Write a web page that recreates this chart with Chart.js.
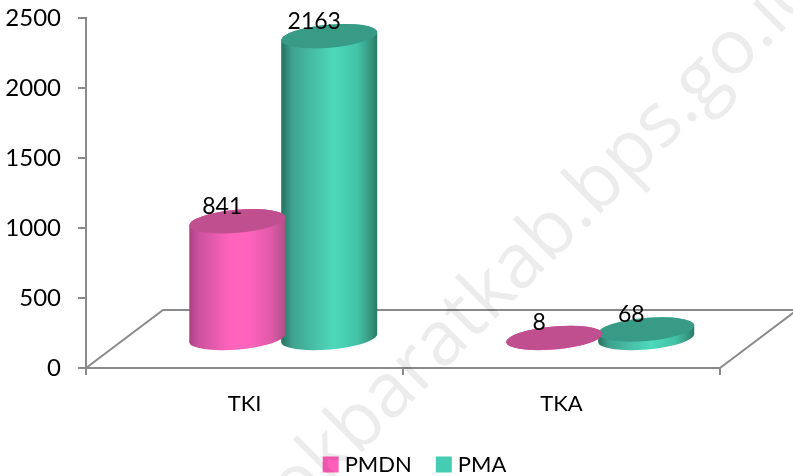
<!DOCTYPE html>
<html>
<head>
<meta charset="utf-8">
<style>html,body{margin:0;padding:0;background:#fff}#w{width:793px;height:476px;position:relative}</style>
<script src="https://cdn.jsdelivr.net/npm/chart.js@4/dist/chart.umd.min.js"></script>
</head>
<body>
<div id="w"><canvas id="c" width="793" height="476"></canvas></div>
<script>
const categories = ['TKI', 'TKA'];
const pmdnValues = [841, 8];
const pmaValues = [2163, 68];
const yTicks = [0, 500, 1000, 1500, 2000, 2500];
const PINK = '#ff5fbb', TEAL = '#45ccb2', AXIS = '#8a8a8a';
const FONT = 'Lato';
const DEPTH = {x: 77, y: -58};
const OFFSET = {x: 38.75, y: -29};
const SHADES = {
  [PINK]: {top: '#c04f90', side: [[0,'#aa4084'],[0.1,'#cc529e'],[0.42,'#ff63bc'],[0.62,'#ff63bc'],[0.85,'#e05aa9'],[1,'#b04e87']]},
  [TEAL]: {top: '#389b86', side: [[0,'#25705f'],[0.12,'#3fa48f'],[0.55,'#4dd9bb'],[0.8,'#43c2a6'],[0.93,'#37967f'],[1,'#287a67']]}
};

// Every bar is still laid out by the bar controller; only its painting is a cylinder.
Chart.BarElement.prototype.draw = function (ctx) {
  const shade = SHADES[this.options.backgroundColor];
  const cx = this.x + OFFSET.x, topY = this.y + OFFSET.y, baseY = this.base + OFFSET.y;
  const rx = 48.2, ry = 11.5, rot = -5 * Math.PI / 180;
  const g = ctx.createLinearGradient(cx - rx, 0, cx + rx, 0);
  shade.side.forEach(s => g.addColorStop(s[0], s[1]));
  ctx.save();
  ctx.beginPath();
  ctx.ellipse(cx, baseY, rx, ry, rot, 0, Math.PI);
  ctx.ellipse(cx, topY, rx, ry, rot, Math.PI, 2 * Math.PI);
  ctx.closePath();
  ctx.fillStyle = g;
  ctx.fill();
  ctx.beginPath();
  ctx.ellipse(cx, topY, rx, ry, rot, 0, 2 * Math.PI);
  ctx.fillStyle = shade.top;
  ctx.fill();
  ctx.restore();
};

const floorPlugin = {
  id: 'floor',
  beforeDatasetsDraw(chart) {
    const {ctx, chartArea: a} = chart;
    ctx.save();
    ctx.strokeStyle = AXIS;
    ctx.lineWidth = 2;
    ctx.beginPath();
    ctx.moveTo(a.left, a.bottom);
    ctx.lineTo(a.left + DEPTH.x, a.bottom + DEPTH.y);
    ctx.lineTo(a.right + DEPTH.x, a.bottom + DEPTH.y);
    ctx.lineTo(a.right, a.bottom);
    ctx.stroke();
    ctx.restore();
  }
};

const labelPlugin = {
  id: 'valueLabels',
  afterDatasetsDraw(chart) {
    const {ctx} = chart;
    ctx.save();
    ctx.font = '23px ' + FONT;
    ctx.fillStyle = '#000';
    ctx.textAlign = 'center';
    ctx.textBaseline = 'middle';
    chart.data.datasets.forEach((ds, i) => {
      chart.getDatasetMeta(i).data.forEach((el, j) => {
        ctx.fillText(String(ds.data[j]), el.x + OFFSET.x - 15, el.y + OFFSET.y - 15);
      });
    });
    ctx.restore();
  }
};

const watermarkPlugin = {
  id: 'watermark',
  afterDraw(chart) {
    const {ctx} = chart;
    ctx.save();
    ctx.font = '76px "Open Sans"';
    ctx.fillStyle = 'rgba(0,0,0,0.075)';
    ctx.textBaseline = 'alphabetic';
    ctx.textAlign = 'right';
    ctx.translate(763, 51);
    ctx.rotate(-Math.PI / 4);
    ctx.fillText('lombokbaratkab.bps.go.id', ctx.measureText('.id').width, 0);
    ctx.restore();
  }
};

const legendPlace = {
  id: 'legendPlace',
  afterLayout(chart) {
    const lg = chart.legend;
    lg.left += 57; lg.right += 57;
    lg.top = 424.5; lg.bottom = 476;
  }
};

new Chart(document.getElementById('c'), {
  type: 'bar',
  data: {
    labels: categories,
    datasets: [
      {label: 'PMDN', data: pmdnValues, backgroundColor: PINK, categoryPercentage: 0.58, barPercentage: 1},
      {label: 'PMA', data: pmaValues, backgroundColor: TEAL, categoryPercentage: 0.58, barPercentage: 1}
    ]
  },
  plugins: [floorPlugin, labelPlugin, watermarkPlugin, legendPlace],
  options: {
    responsive: false,
    animation: false,
    layout: {padding: {top: 18, right: 73, bottom: 0, left: 0}},
    plugins: {
      tooltip: {enabled: false},
      legend: {
        position: 'bottom',
        labels: {
          color: '#000',
          font: {family: FONT, size: 22},
          boxWidth: 6,
          boxHeight: 6,
          padding: 29,
          generateLabels: chart => chart.data.datasets.map((d, i) => ({
            text: d.label, fillStyle: d.backgroundColor, strokeStyle: d.backgroundColor,
            lineWidth: 10, datasetIndex: i, hidden: false
          }))
        }
      }
    },
    scales: {
      x: {
        afterFit(s) { s.height = 108 - (s.chart.legend ? s.chart.legend.height : 0); },
        border: {color: AXIS, width: 2},
        grid: {color: AXIS, lineWidth: 2, drawOnChartArea: false, tickLength: 7},
        ticks: {color: '#000', font: {family: FONT, size: 22}, padding: 16}
      },
      y: {
        min: 0, max: 2500,
        afterFit(s) { s.width = 86; s.paddingTop = 0; s.paddingBottom = 0; },
        afterBuildTicks(s) { s.ticks = yTicks.map(v => ({value: v})); },
        border: {color: AXIS, width: 2},
        grid: {color: AXIS, lineWidth: 2, drawOnChartArea: false, tickLength: 8},
        ticks: {color: '#000', font: {family: FONT, size: 24}, padding: 17, callback: v => String(v)}
      }
    }
  }
});
</script>
</body>
</html>
